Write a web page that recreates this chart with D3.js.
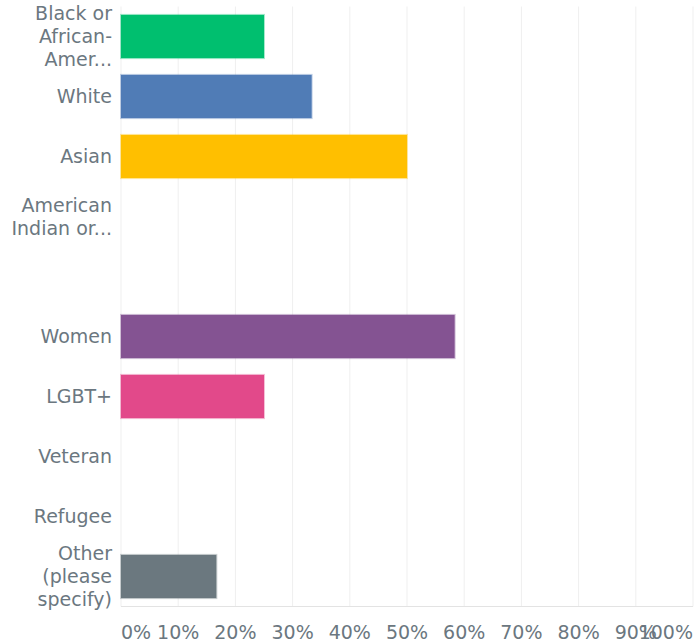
<!DOCTYPE html>
<html>
<head>
<meta charset="utf-8">
<script src="https://cdn.jsdelivr.net/npm/d3@7"></script>
<style>
  body { margin: 0; background: #fff; }
  text { font-family: "DejaVu Sans", sans-serif; fill: #6b7780; }
</style>
</head>
<body>
<div id="chart"></div>
<script>
// answer choices (lines of each wrapped label)
var labels = [
  ["Black or", "African-", "Amer..."],
  ["White"],
  ["Asian"],
  ["American", "Indian or..."],
  [""],
  ["Women"],
  ["LGBT+"],
  ["Veteran"],
  ["Refugee"],
  ["Other", "(please", "specify)"]
];
var values = [25, 33.33, 50, 0, 0, 58.33, 25, 0, 0, 16.67];
var colors = ["#00bf6f", "#507cb6", "#ffbf00", "#6bc8cd", "#f05b24", "#845392", "#e2498a", "#a6cc36", "#e98525", "#6b787f"];
var ticks = [0, 10, 20, 30, 40, 50, 60, 70, 80, 90, 100];

var width = 694, height = 644;
var margin = {top: 6.5, right: 1, bottom: 37.5, left: 121};

var svg = d3.select("#chart")
    .append("svg")
    .attr("width", width)
    .attr("height", height);

var ids = labels.map(function (d, i) { return i; });

var x = d3.scaleLinear()
    .domain([0, 100])
    .range([margin.left, width - margin.right]);

var y = d3.scaleBand()
    .domain(ids)
    .range([margin.top, height - margin.bottom])
    .paddingInner(0.28)
    .paddingOuter(0.14);

// grid lines
svg.selectAll(".grid")
    .data(ticks)
    .enter()
    .append("line")
    .attr("x1", function (d) { return x(d); })
    .attr("x2", function (d) { return x(d); })
    .attr("y1", margin.top)
    .attr("y2", height - margin.bottom)
    .attr("stroke", "#efefef")
    .attr("stroke-width", 1);

svg.append("line")
    .attr("x1", margin.left)
    .attr("x2", width - margin.right)
    .attr("y1", height - margin.bottom)
    .attr("y2", height - margin.bottom)
    .attr("stroke", "#e3e3e3");

// bars (zero values draw nothing)
svg.selectAll(".bar")
    .data(ids.filter(function (i) { return values[i] > 0; }))
    .enter()
    .append("rect")
    .attr("x", x(0))
    .attr("y", function (i) { return y(i); })
    .attr("width", function (i) { return x(values[i]) - x(0); })
    .attr("height", y.bandwidth())
    .attr("fill", function (i) { return colors[i]; })
    .attr("stroke", function (i) { return colors[i]; })
    .attr("stroke-opacity", 0.35)
    .attr("stroke-width", 2);

// category labels
var lineH = 23;
labels.forEach(function (lines, i) {
  var cy = y(i) + y.bandwidth() / 2;
  var t = svg.append("text")
      .attr("text-anchor", "end")
      .style("font-size", "19px");
  lines.forEach(function (s, j) {
    t.append("tspan")
      .attr("x", margin.left - 9)
      .attr("y", cy + (j - (lines.length - 1) / 2) * lineH)
      .attr("dy", "0.35em")
      .text(s);
  });
});

// x axis labels
svg.selectAll(".tick-label")
    .data(ticks)
    .enter()
    .append("text")
    .attr("x", function (d) { return x(d); })
    .attr("y", 639)
    .attr("text-anchor", function (d, i) {
      return i === 0 ? "start" : (i === ticks.length - 1 ? "end" : "middle");
    })
    .style("font-size", "19px")
    .text(function (d) { return d + "%"; });
</script>
</body>
</html>
